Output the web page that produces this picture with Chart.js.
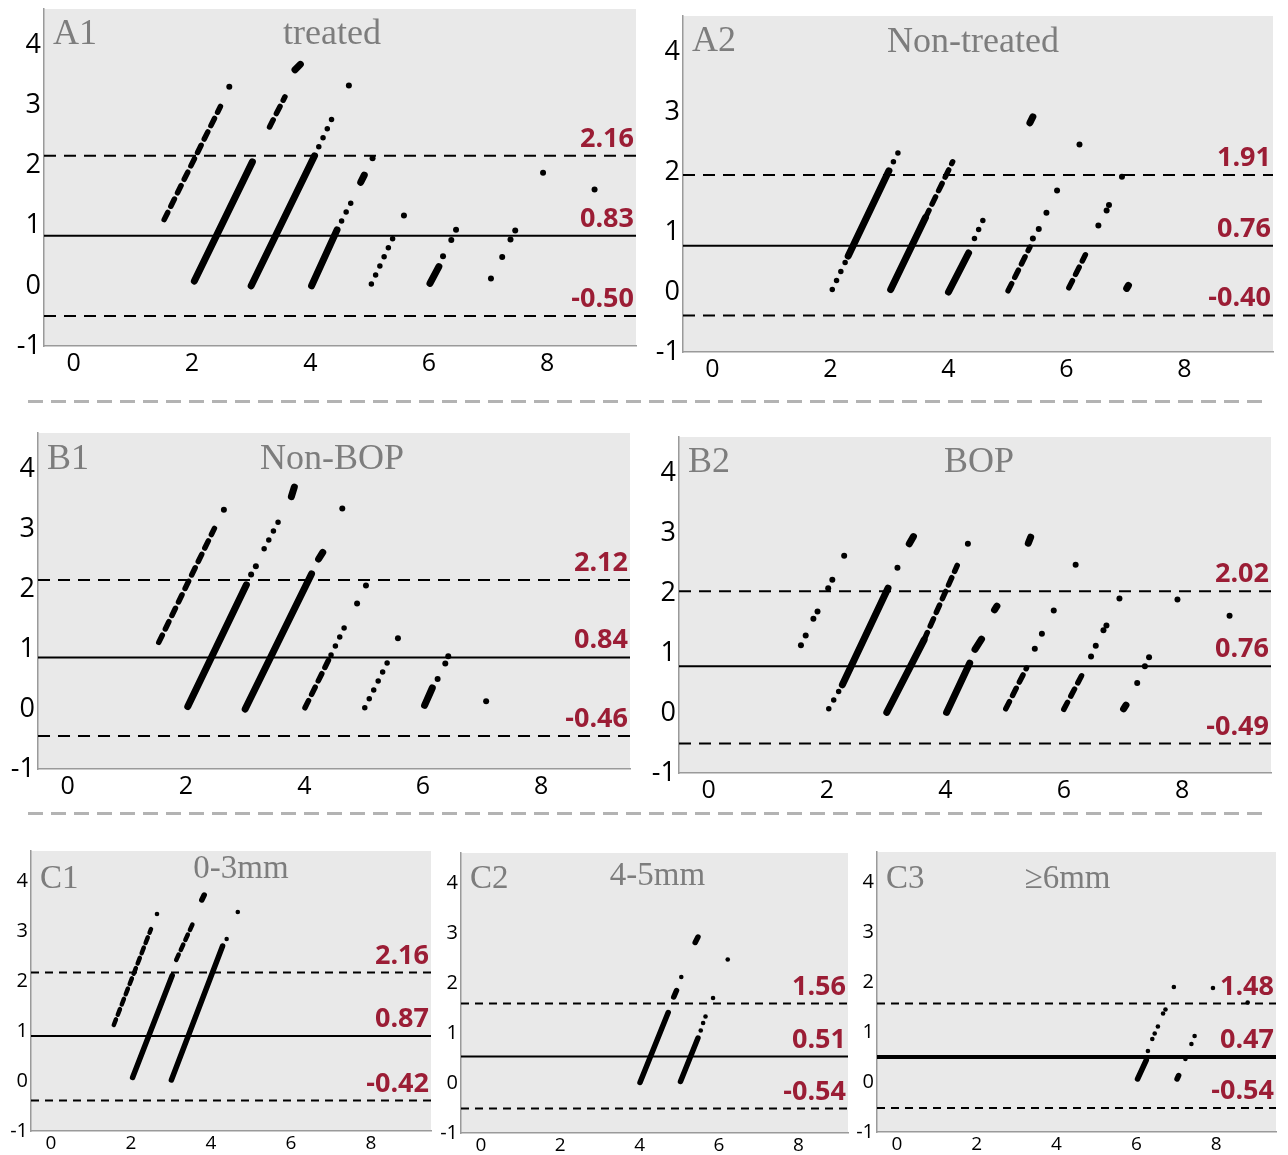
<!DOCTYPE html>
<html lang="en">
<head>
<meta charset="UTF-8">
<title>Bland-Altman panels</title>
<script src="https://cdn.jsdelivr.net/npm/chart.js@4.4.0/dist/chart.umd.min.js"></script>
<style>
  body { margin: 0; background: #fff; width: 1288px; height: 1155px; position: relative; overflow: hidden; }
  canvas { position: absolute; }
  .sep { position: absolute; left: 28px; width: 1234px; height: 3px;
         background: repeating-linear-gradient(to right, #b3b3b3 0 15px, transparent 15px 23px); }
</style>
</head>
<body>
<div class="sep" style="top:400px"></div>
<div class="sep" style="top:812px"></div>
<script>
var xTicks = [0, 2, 4, 6, 8];
var yTicks = [-1, 0, 1, 2, 3, 4];

// limit lines: upper, mean, lower  (labels as printed)
var a1Limits = [2.16, 0.83, -0.50];
var a1Labels = ['2.16', '0.83', '-0.50'];
var a2Limits = [1.95, 0.77, -0.39];
var a2Labels = ['1.91', '0.76', '-0.40'];
var b1Limits = [2.15, 0.86, -0.45];
var b1Labels = ['2.12', '0.84', '-0.46'];
var b2Limits = [2.03, 0.78, -0.51];
var b2Labels = ['2.02', '0.76', '-0.49'];
var c1Limits = [2.17, 0.90, -0.39];
var c1Labels = ['2.16', '0.87', '-0.42'];
var c2Limits = [1.59, 0.53, -0.51];
var c2Labels = ['1.56', '0.51', '-0.54'];
var c3Limits = [1.57, 0.50, -0.52];
var c3Labels = ['1.48', '0.47', '-0.54'];

// point streaks: x1, y1, x2, y2, look
var a1Streaks = [
  [1.53, 1.10, 2.48, 2.98, 'dash'],
  [2.04, 0.08, 3.02, 2.06, 'solid'],
  [3.31, 2.64, 3.57, 3.14, 'dash'],
  [3.74, 3.59, 3.83, 3.68, 'solid'],
  [3.00, 0.00, 4.07, 2.16, 'solid'],
  [4.07, 2.16, 4.38, 2.81, 'dot'],
  [4.02, 0.00, 4.45, 0.93, 'solid'],
  [4.45, 0.93, 4.70, 1.41, 'dot'],
  [4.85, 1.72, 4.91, 1.84, 'solid'],
  [5.03, 0.03, 5.44, 0.89, 'dot'],
  [6.02, 0.04, 6.17, 0.32, 'solid']
];
var a1Points = [[2.63, 3.31], [4.65, 3.33], [5.05, 2.12], [5.58, 1.17], [6.24, 0.49], [6.38, 0.76], [6.46, 0.93],
  [7.05, 0.12], [7.24, 0.48], [7.38, 0.77], [7.46, 0.92], [7.93, 1.88], [8.80, 1.60]];

var a2Streaks = [
  [2.03, 0.04, 2.30, 0.60, 'dot'],
  [2.30, 0.60, 2.99, 2.02, 'solid'],
  [2.99, 2.02, 3.19, 2.41, 'dot'],
  [3.02, 0.04, 3.61, 1.24, 'solid'],
  [3.61, 1.24, 4.07, 2.17, 'dash'],
  [4.00, 0.00, 4.34, 0.65, 'solid'],
  [4.44, 0.89, 4.59, 1.21, 'dot'],
  [5.01, 0.02, 5.38, 0.75, 'dash'],
  [5.38, 2.82, 5.43, 2.92, 'solid'],
  [6.04, 0.07, 6.32, 0.62, 'dash'],
  [7.02, 0.06, 7.05, 0.11, 'solid']
];
var a2Points = [[5.43, 0.89], [5.53, 1.05], [5.66, 1.32], [5.84, 1.69], [6.22, 2.46], [6.54, 1.11], [6.68, 1.36],
  [6.72, 1.45], [6.94, 1.92]];

var b1Streaks = [
  [1.54, 1.11, 2.48, 3.01, 'dash'],
  [2.03, 0.04, 3.02, 2.07, 'solid'],
  [3.32, 2.67, 3.58, 3.16, 'dot'],
  [3.78, 3.54, 3.83, 3.70, 'solid'],
  [3.00, 0.00, 4.12, 2.25, 'solid'],
  [4.24, 2.50, 4.31, 2.61, 'solid'],
  [4.01, 0.02, 4.45, 0.90, 'dash'],
  [4.45, 0.90, 4.70, 1.41, 'dot'],
  [5.02, 0.02, 5.44, 0.85, 'dot'],
  [6.03, 0.06, 6.16, 0.35, 'solid']
];
var b1Points = [[2.64, 3.32], [3.10, 2.24], [3.18, 2.38], [4.64, 3.34], [4.89, 1.76], [5.04, 2.06], [5.58, 1.18],
  [6.25, 0.50], [6.38, 0.76], [6.43, 0.88], [7.07, 0.13]];

var b2Streaks = [
  [2.03, 0.07, 2.26, 0.47, 'dot'],
  [2.26, 0.47, 3.03, 2.08, 'solid'],
  [3.39, 2.82, 3.46, 2.94, 'solid'],
  [3.01, 0.01, 3.64, 1.22, 'solid'],
  [3.64, 1.22, 4.20, 2.46, 'dash'],
  [4.02, 0.01, 4.41, 0.83, 'solid'],
  [4.50, 1.06, 4.61, 1.23, 'solid'],
  [4.83, 1.72, 4.87, 1.78, 'solid'],
  [5.02, 0.07, 5.37, 0.75, 'dash'],
  [5.40, 2.83, 5.44, 2.93, 'solid'],
  [6.00, 0.06, 6.30, 0.62, 'dash'],
  [7.01, 0.07, 7.05, 0.13, 'solid']
];
var b2Points = [[1.56, 1.13], [1.64, 1.29], [1.77, 1.57], [1.84, 1.69], [2.02, 2.08], [2.09, 2.22], [2.29, 2.62],
  [3.19, 2.42], [4.38, 2.82], [5.51, 1.07], [5.63, 1.32], [5.83, 1.71], [6.20, 2.47], [6.46, 0.94], [6.54, 1.12],
  [6.67, 1.38], [6.72, 1.46], [6.94, 1.91], [7.24, 0.50], [7.37, 0.78], [7.44, 0.93], [7.92, 1.89], [8.80, 1.62]];

var c1Streaks = [
  [1.57, 1.12, 2.50, 3.04, 'dash'],
  [2.04, 0.07, 3.03, 2.11, 'solid'],
  [3.13, 2.42, 3.57, 3.19, 'dash'],
  [3.77, 3.62, 3.83, 3.72, 'solid'],
  [3.01, 0.02, 4.29, 2.70, 'solid'],
  [4.29, 2.70, 4.40, 2.85, 'dot']
];
var c1Points = [[2.65, 3.34], [4.67, 3.38]];

var c2Streaks = [
  [4.01, 0.01, 4.72, 1.41, 'solid'],
  [4.86, 1.72, 4.93, 1.85, 'solid'],
  [5.40, 2.81, 5.47, 2.92, 'solid'],
  [5.03, 0.03, 5.47, 0.90, 'solid']
];
var c2Points = [[5.05, 2.12], [5.54, 1.05], [5.60, 1.20], [5.66, 1.33], [5.85, 1.70], [6.22, 2.47]];

var c3Streaks = [
  [6.03, 0.06, 6.25, 0.44, 'solid'],
  [7.02, 0.06, 7.06, 0.13, 'solid']
];
var c3Points = [[6.29, 0.62], [6.40, 0.86], [6.46, 0.97], [6.54, 1.11], [6.67, 1.37], [6.73, 1.45], [6.94, 1.90],
  [7.23, 0.46], [7.38, 0.76], [7.46, 0.92], [7.92, 1.88], [8.79, 1.59]];

// layout of each panel: plot box [left, top, right, bottom] in page px
var panels = [
  { tag: 'A1', title: 'treated', box: [44, 9, 636, 346], xMax: 9.5, big: true, titleDx: -8, base: [35, 35],
    limits: a1Limits, labels: a1Labels, streaks: a1Streaks, points: a1Points },
  { tag: 'A2', title: 'Non-treated', box: [683, 16, 1273, 352], xMax: 9.5, big: true, titleDx: -5, base: [35, 36],
    limits: a2Limits, labels: a2Labels, streaks: a2Streaks, points: a2Points },
  { tag: 'B1', title: 'Non-BOP', box: [38, 433, 630, 769], xMax: 9.5, big: true, titleDx: -2, base: [36, 36],
    limits: b1Limits, labels: b1Labels, streaks: b1Streaks, points: b1Points },
  { tag: 'B2', title: 'BOP', box: [679, 437, 1271, 773], xMax: 9.5, big: true, titleDx: 4, base: [35, 35],
    limits: b2Limits, labels: b2Labels, streaks: b2Streaks, points: b2Points },
  { tag: 'C1', title: '0-3mm', box: [31, 851, 431, 1131], xMax: 9.5, big: false, titleDx: 10, base: [37, 27],
    limits: c1Limits, labels: c1Labels, streaks: c1Streaks, points: c1Points },
  { tag: 'C2', title: '4-5mm', box: [461, 853, 848, 1133], xMax: 9.25, big: false, titleDx: 3, base: [35, 32],
    limits: c2Limits, labels: c2Labels, streaks: c2Streaks, points: c2Points, meanW: 2 },
  { tag: 'C3', title: '\u22656mm', box: [877, 852, 1276, 1132], xMax: 9.5, big: false, titleDx: -9, base: [36, 36],
    limits: c3Limits, labels: c3Labels, streaks: c3Streaks, points: c3Points, meanW: 4 }
];

var X_MIN = -0.5, Y_MIN = -1, Y_MAX = 4.6;

var decoPlugin = {
  id: 'deco',
  beforeDraw: function (chart) {
    var a = chart.chartArea, ctx = chart.ctx;
    ctx.save();
    ctx.fillStyle = '#e9e9e9';
    ctx.fillRect(a.left, a.top, a.right - a.left, a.bottom - a.top);
    ctx.restore();
  },
  afterDraw: function (chart) {
    var p = chart.options.plugins.deco, a = chart.chartArea, ctx = chart.ctx;
    var y = chart.scales.y;
    ctx.save();
    // panel tag + title
    ctx.fillStyle = '#7d7d7d';
    ctx.textBaseline = 'alphabetic';
    ctx.font = (p.big ? 36 : 33) + 'px "Liberation Serif"';
    ctx.textAlign = 'left';
    ctx.fillText(p.tag, a.left + 9, a.top + p.base[0]);
    ctx.textAlign = 'center';
    ctx.fillText(p.title, (a.left + a.right) / 2 + p.titleDx, a.top + p.base[1]);
    // limit values
    ctx.fillStyle = '#9b1d35';
    ctx.font = 'bold 27px "Open Sans"';
    ctx.textAlign = 'right';
    p.limits.forEach(function (v, i) {
      ctx.fillText(p.labels[i], a.right - 2, y.getPixelForValue(v) - 9);
    });
    ctx.restore();
  }
};

panels.forEach(function (p) {
  var big = p.big;
  var yw = big ? 44 : 30;
  var xh = big ? 38 : 26;
  var padTop = 20, padRight = 4;
  var w = p.box[2] - p.box[0] + yw + padRight;
  var h = p.box[3] - p.box[1] + padTop + xh;
  var c = document.createElement('canvas');
  c.width = w; c.height = h;
  c.style.width = w + 'px'; c.style.height = h + 'px';
  c.style.left = (p.box[0] - yw) + 'px';
  c.style.top = (p.box[1] - padTop) + 'px';
  document.body.appendChild(c);

  var solidW = big ? 7 : 5.5;
  var dotW = big ? 5.5 : 4.5;
  var datasets = [];

  p.streaks.forEach(function (s) {
    var look = s[4];
    datasets.push({
      data: [{ x: s[0], y: s[1] }, { x: s[2], y: s[3] }],
      showLine: true,
      borderColor: '#000',
      borderWidth: look === 'solid' ? solidW : dotW,
      borderDash: look === 'dot' ? [0, big ? 10 : 8] : (look === 'dash' ? [big ? 8 : 6, big ? 7 : 5] : []),
      borderCapStyle: 'round',
      pointRadius: 0
    });
  });

  datasets.push({
    data: p.points.map(function (q) { return { x: q[0], y: q[1] }; }),
    showLine: false,
    pointRadius: big ? 3 : 2.3,
    pointBorderWidth: 0,
    backgroundColor: '#000',
    borderColor: '#000'
  });

  p.limits.forEach(function (v, i) {
    var mean = i === 1;
    datasets.push({
      data: [{ x: X_MIN, y: v }, { x: p.xMax, y: v }],
      showLine: true,
      borderColor: '#000',
      borderWidth: mean ? (p.meanW || 2) : 2,
      borderDash: mean ? [] : (big ? [12, 8] : [8, 6]),
      pointRadius: 0
    });
  });

  var tickFontY = big ? 27 : 20;
  var tickFontX = big ? 25 : 19;

  new Chart(c, {
    type: 'scatter',
    data: { datasets: datasets },
    options: {
      responsive: false,
      maintainAspectRatio: false,
      animation: false,
      layout: { padding: { top: padTop, right: padRight, left: 0, bottom: 0 } },
      plugins: {
        legend: { display: false },
        tooltip: { enabled: false },
        deco: { tag: p.tag, title: p.title, big: big, titleDx: p.titleDx, base: p.base, limits: p.limits, labels: p.labels }
      },
      scales: {
        x: {
          type: 'linear', min: X_MIN, max: p.xMax,
          grid: { display: false, drawTicks: false },
          border: { display: true, color: '#9a9a9a', width: 1.5 },
          ticks: {
            color: '#000', padding: big ? 3 : 1, maxRotation: 0, autoSkip: false,
            font: { family: 'Open Sans', size: tickFontX },
            callback: function (v) { return String(v); }
          },
          afterBuildTicks: function (s) { s.ticks = xTicks.map(function (v) { return { value: v }; }); },
          afterFit: function (s) { s.height = xh; }
        },
        y: {
          type: 'linear', min: Y_MIN, max: Y_MAX,
          grid: { display: false, drawTicks: false },
          border: { display: true, color: '#9a9a9a', width: 1.5 },
          ticks: {
            color: '#000', padding: 3,
            font: { family: 'Open Sans', size: tickFontY },
            callback: function (v) { return String(v); }
          },
          afterBuildTicks: function (s) { s.ticks = yTicks.map(function (v) { return { value: v }; }); },
          afterFit: function (s) { s.width = yw; }
        }
      }
    },
    plugins: [decoPlugin]
  });
});
</script>
</body>
</html>
